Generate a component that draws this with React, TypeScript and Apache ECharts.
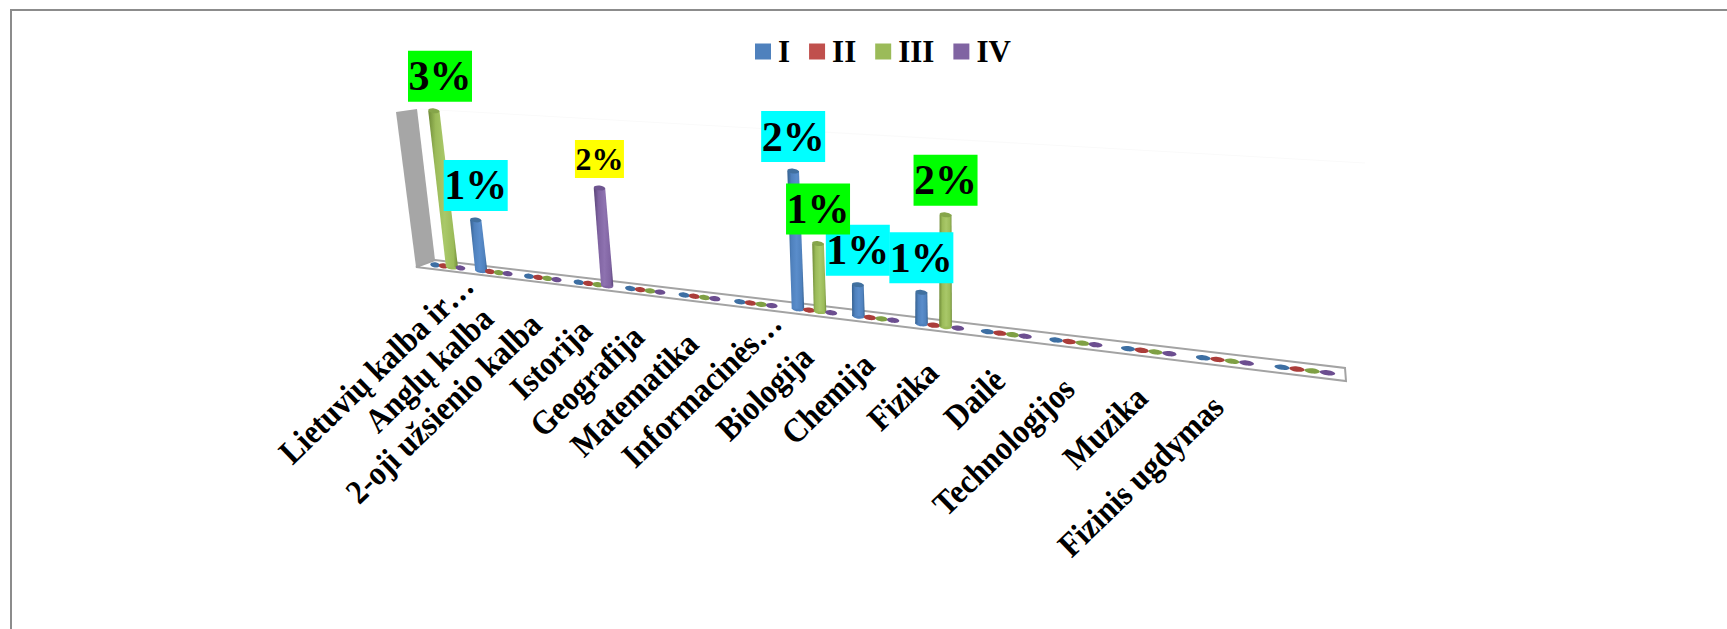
import React, { useEffect, useRef } from "react";
import * as echarts from "echarts";

const categories = [
  "Lietuvių kalba ir…", "Anglų kalba", "2-oji užsienio kalba", "Istorija", "Geografija",
  "Matematika", "Informacinės…", "Biologija", "Chemija", "Fizika", "Dailė",
  "Technologijos", "Muzika", "Fizinis ugdymas", "",
];
const seriesNames = ["I", "II", "III", "IV"];
const valuesI =   [0, 0.96, 0, 0, 0, 0, 0, 2.33, 0.52, 0.51, 0, 0, 0, 0, 0];
const valuesII =  [0, 0, 0, 0, 0, 0, 0, 0, 0, 0, 0, 0, 0, 0, 0];
const valuesIII = [3.0, 0, 0, 0, 0, 0, 0, 1.14, 0, 1.8, 0, 0, 0, 0, 0];
const valuesIV =  [0, 0, 0, 1.77, 0, 0, 0, 0, 0, 0, 0, 0, 0, 0, 0];
const allValues = [valuesI, valuesII, valuesIII, valuesIV];

const barColors = ["#4F81BD", "#C0504D", "#9BBB59", "#8064A2"];
const barDark = ["#35608F", "#8F3532", "#6F8B38", "#5A4478"];
const barLight = ["#5A8DCB", "#D0605C", "#A9C869", "#8E72B0"];
const barTop = ["#41709F", "#A84440", "#86A54A", "#6E5590"];
const discColors = ["#3D6FA3", "#AB3D3A", "#7FA044", "#6C4E90"];
const labelBg = ["#00FFFF", "#00FFFF", "#00FF00", "#FFFF00"];
const labelSize = [42, 42, 42, 32];
const labelGap = [35, 35, 35, 29];

const FONT = '"Liberation Serif", "Times New Roman", serif';
const W = 1727, H = 629;
const G = { left: 100, right: 100, top: 100, bottom: 100 };
const gridW = W - G.left - G.right, gridH = H - G.top - G.bottom;
const yMax = 3;
const slotFrac = 0.185;

// perspective of the chart's floor: turns a point of the flat grid into its place on the page
function project(px: number, py: number) {
  const u = (px - G.left) / gridW;
  const val = ((H - G.bottom - py) / gridH) * yMax;
  const c = -0.2672;
  const w = 1 + c * u;
  const x0 = (425 + (921 + 1346 * c) * u) / w;
  const y0 = 265 + 0.1209 * (x0 - 436);
  const h = (val * 51.5) / w;
  const lean = (946 - x0) * 0.000235;
  return { x: x0 - h * lean, y: y0 - h, x0, y0 };
}

function cylinderItem(s: number) {
  return (_p: any, api: any) => {
    const i = api.value(0), v = api.value(1);
    const band = api.size([1, 0])[0];
    const off = (s - 1.5) * slotFrac * band;
    const base = api.coord([i, 0]);
    const top = api.coord([i, v]);
    const a = project(base[0] + off, base[1]);
    const b = project(top[0] + off, top[1]);
    const next = project(base[0] + off + slotFrac * band, base[1]);
    const spacing = next.x - a.x;
    const tilt = -0.12;
    if (v <= 0) {
      return {
        type: "ellipse", x: a.x, y: a.y, rotation: tilt,
        shape: { cx: 0, cy: 0, rx: 0.5 * (0.85 * spacing + 2.5), ry: 2.6 },
        style: { fill: discColors[s] },
      };
    }
    const r = 0.5 * (10.4 + 0.19 * spacing), rt = r - 0.4;
    return {
      type: "group",
      children: [
        { type: "ellipse", x: a.x, y: a.y, rotation: tilt, shape: { cx: 0, cy: 0, rx: r, ry: 2.6 }, style: { fill: barColors[s] } },
        {
          type: "polygon",
          shape: { points: [[b.x - rt, b.y], [b.x + rt, b.y], [a.x + r, a.y], [a.x - r, a.y]] },
          style: {
            fill: new echarts.graphic.LinearGradient(0, 0, 1, 0, [
              { offset: 0, color: barDark[s] },
              { offset: 0.25, color: barColors[s] },
              { offset: 0.55, color: barLight[s] },
              { offset: 0.85, color: barColors[s] },
              { offset: 1, color: barDark[s] },
            ]),
          },
        },
        { type: "ellipse", x: b.x, y: b.y, rotation: tilt, shape: { cx: 0, cy: 0, rx: rt, ry: 2.4 }, style: { fill: barTop[s] } },
      ],
    };
  };
}

const labelRows: number[][] = [];
allValues.forEach((vals, s) => vals.forEach((v, i) => { if (v > 0) labelRows.push([i, v, s]); }));

function labelItem(_p: any, api: any) {
  const i = api.value(0), v = api.value(1), s = api.value(2);
  const band = api.size([1, 0])[0];
  const off = (s - 1.5) * slotFrac * band;
  const top = api.coord([i, v]);
  const b = project(top[0] + off, top[1]);
  const size = labelSize[s];
  return {
    type: "text", x: Math.max(b.x, 440), y: b.y - labelGap[s] + (size > 40 ? 0.5 : 0),
    style: {
      text: Math.round(v) + "%",
      font: `bold ${size}px ${FONT}`,
      fill: "#000",
      align: "center", verticalAlign: "middle",
      backgroundColor: labelBg[s],
      padding: size > 40 ? [4.5, 0.5] : [3, 0.5],
    },
  };
}

function categoryItem(_p: any, api: any) {
  const i = api.value(0);
  const base = api.coord([i, 0]);
  const a = project(base[0], base[1]);
  const text = categories[i];
  const cut = text.endsWith("…");
  return {
    type: "text",
    x: a.x + (cut ? 20 : -7),
    y: a.y + (cut ? 14 : 41),
    rotation: (44 * Math.PI) / 180,
    scaleY: 1.1,
    style: {
      text,
      font: `bold 31px ${FONT}`,
      fill: "#000",
      align: "right", verticalAlign: "middle",
    },
  };
}

export default function App() {
  const ref = useRef<HTMLDivElement>(null);
  useEffect(() => {
    const chart = echarts.init(ref.current!, undefined, { renderer: "svg", width: W, height: H });
    chart.setOption({
      animation: false,
      backgroundColor: "#fff",
      color: barColors,
      grid: { ...G },
      xAxis: { type: "category", data: categories, show: false },
      yAxis: { type: "value", min: 0, max: yMax, show: false },
      legend: {
        data: seriesNames, left: 755, top: 36, padding: 0, icon: "rect",
        itemWidth: 16, itemHeight: 16, itemGap: 19,
        textStyle: { fontFamily: FONT, fontWeight: "bold", fontSize: 31, color: "#000", padding: [0, 0, 0, 2] },
        selectedMode: false,
      },
      graphic: [
        { type: "polyline", silent: true, shape: { points: [[11, 629], [11, 10], [1727, 10]] }, style: { stroke: "#8C8C8C", lineWidth: 2, fill: "none" } },
        { type: "line", silent: true, shape: { x1: 420, y1: 109, x2: 1365, y2: 163 }, style: { stroke: "#FAFAFA", lineWidth: 1 } },
        {
          type: "polygon", silent: true,
          shape: { points: [[396, 112], [417, 109], [435, 260], [416, 267]] },
          style: { fill: "#A6A6A6" },
        },
        {
          type: "polygon", silent: true,
          shape: { points: [[416, 267], [435, 260], [1345, 368], [1346, 381]] },
          style: { fill: "#FFFFFF", stroke: "#A3A3A3", lineWidth: 2 },
        },
      ],
      series: [
        ...seriesNames.map((name, s) => ({
          type: "custom", name, coordinateSystem: "cartesian2d", clip: false, silent: true,
          itemStyle: { color: barColors[s] },
          encode: { x: 0, y: 1 },
          data: allValues[s].map((v, i) => [i, v]),
          renderItem: cylinderItem(s),
        })),
        {
          type: "custom", name: "labels", coordinateSystem: "cartesian2d", clip: false, silent: true,
          encode: { x: 0, y: 1 }, data: labelRows, renderItem: labelItem,
        },
        {
          type: "custom", name: "categories", coordinateSystem: "cartesian2d", clip: false, silent: true,
          encode: { x: 0, y: 1 }, data: categories.map((_c, i) => [i, 0]), renderItem: categoryItem,
        },
      ],
    });
    return () => chart.dispose();
  }, []);
  return <div ref={ref} style={{ position: "fixed", left: 0, top: 0, width: W, height: H, background: "#fff" }} />;
}
